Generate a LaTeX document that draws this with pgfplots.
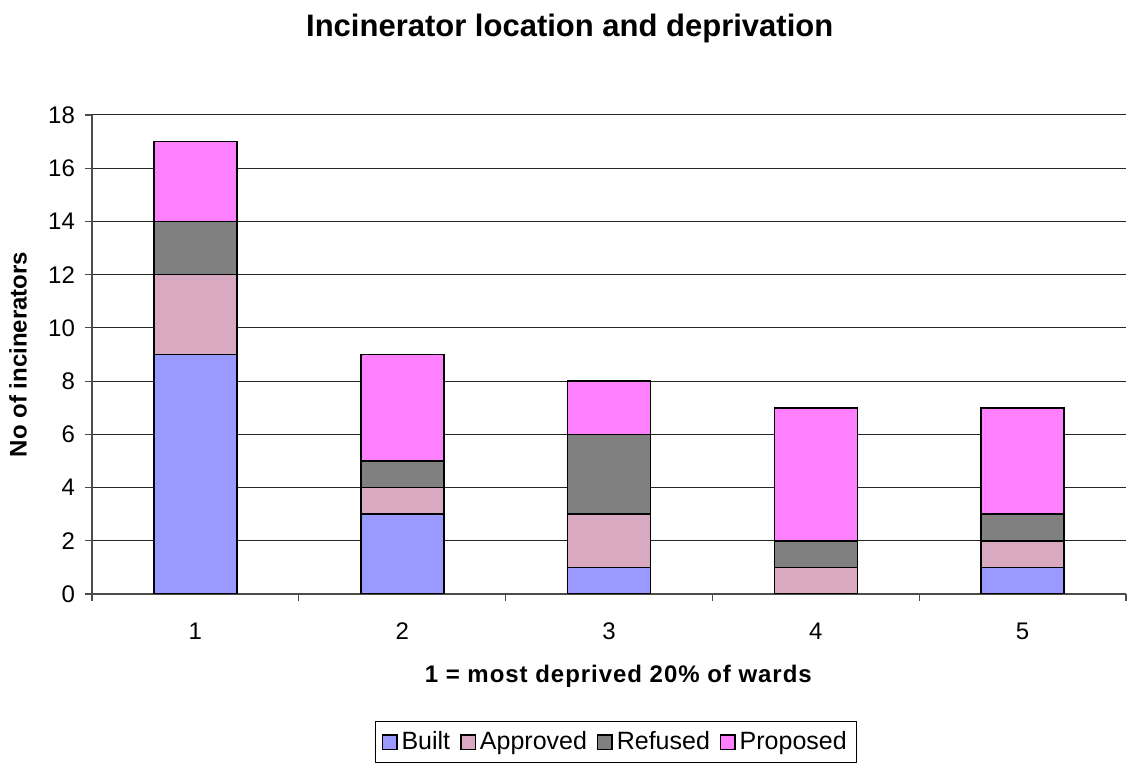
\documentclass[border=0pt]{standalone}
\usepackage{pgfplots}
\pgfplotsset{compat=1.18}
\usepackage{fontspec}
\setmainfont{Liberation Sans}

\definecolor{built}{HTML}{9999FF}
\definecolor{approved}{HTML}{D9A9C2}
\definecolor{refused}{HTML}{808080}
\definecolor{proposed}{HTML}{FF80FF}

\begin{document}
\begin{tikzpicture}
\begin{axis}[
    scale only axis,
    width=517pt, height=239.5pt,
    ybar stacked,
    bar width=41.5pt,
    xmin=0.5, xmax=5.5,
    ymin=0, ymax=18,
    ytick={0,2,...,18},
    xtick={0.5,1.5,...,5.5},
    xticklabels={},
    extra x ticks={1,2,3,4,5},
    extra x tick labels={1,2,3,4,5},
    extra x tick style={major tick length=0pt, grid=none},
    axis lines*=left,
    axis line style={black!70, line width=0.6pt},
    tick style={black!70, line width=0.6pt},
    tick align=outside,
    major tick length=3.5pt,
    ymajorgrids,
    grid style={black!85, line width=0.5pt},
    tick label style={font=\fontsize{12}{14}\selectfont},
    yticklabel style={xshift=-1.5pt},
    /pgf/number format/assume math mode=true,
    xticklabel style={yshift=-11pt},
    title={Incinerator location and deprivation},
    title style={font=\bfseries\fontsize{15.5}{18}\selectfont, at={(0.462,1.155)}, anchor=center},
    xlabel={1 = most deprived 20\% of wards},
    xlabel style={font=\bfseries\fontsize{12}{14}\selectfont\addfontfeature{LetterSpace=4}, at={(axis description cs:0.509,-0.171)}, anchor=center},
    ylabel={No of incinerators},
    ylabel style={font=\bfseries\fontsize{12}{14}\selectfont, at={(axis description cs:-0.0716,0.5)}, anchor=center},
    legend columns=4,
    legend style={at={(0.507,-0.309)}, anchor=center, draw=black, fill=white,
        font=\fontsize{12.5}{15}\selectfont, inner sep=3pt,
        /tikz/every even column/.append style={column sep=3pt}},
    legend image code/.code={\draw[#1, line width=0.7pt] (0pt,-3.6pt) rectangle (7.2pt,3.6pt);},
    every axis plot/.append style={draw=black, line width=0.8pt},
]
\addplot[fill=built] coordinates {(1,9) (2,3) (3,1) (4,0) (5,1)};
\addlegendentry{Built}
\addplot[fill=approved] coordinates {(1,3) (2,1) (3,2) (4,1) (5,1)};
\addlegendentry{Approved}
\addplot[fill=refused] coordinates {(1,2) (2,1) (3,3) (4,1) (5,1)};
\addlegendentry{Refused}
\addplot[fill=proposed] coordinates {(1,3) (2,4) (3,2) (4,5) (5,4)};
\addlegendentry{Proposed}
\end{axis}
\path (-46pt,-84.5pt) rectangle (523.5pt,297pt);
\end{tikzpicture}
\end{document}
